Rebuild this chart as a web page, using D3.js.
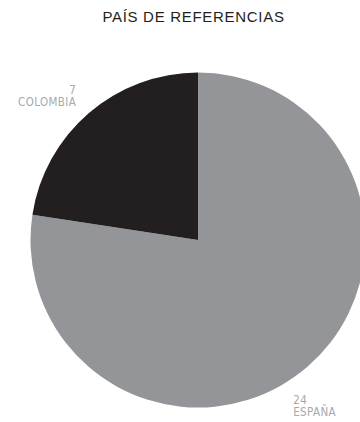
<!DOCTYPE html>
<html>
<head>
<meta charset="utf-8">
<script src="https://cdn.jsdelivr.net/npm/d3@7"></script>
<style>
  html, body { margin: 0; padding: 0; background: #fff; }
  svg { display: block; }
</style>
</head>
<body>
<svg id="chart" width="360" height="422"></svg>
<script>
// Country of the references
const categories = ["ESPAÑA", "COLOMBIA"];
const values = [24, 7];
const colors = ["#939598", "#231f20"];
const title = "PAÍS DE REFERENCIAS";

const W = 360, H = 422;
const cx = 198, cy = 240, radius = 167.5;

const svg = d3.select("#chart");

svg.append("text")
  .attr("x", 193.5)
  .attr("y", 21.5)
  .attr("text-anchor", "middle")
  .attr("font-family", "'Liberation Sans', Arial, sans-serif")
  .attr("font-size", 15)
  .attr("letter-spacing", 0.7)
  .attr("fill", "#231f20")
  .text(title);

const data = categories.map((c, i) => ({ name: c, value: values[i], color: colors[i] }));

const pie = d3.pie().value(d => d.value).sort(null);
const arcs = pie(data);
const arc = d3.arc().innerRadius(0).outerRadius(radius);

const g = svg.append("g").attr("transform", `translate(${cx},${cy})`);

g.selectAll("path.slice")
  .data(arcs)
  .join("path")
  .attr("class", "slice")
  .attr("d", arc)
  .attr("fill", d => d.data.color);

// Labels sit just outside the rim: value on the first line, name below
const labelPlacement = {
  "ESPAÑA": { angle: 2.646, r: radius * 1.195, anchor: "start" },
  "COLOMBIA": { angle: -0.738, r: radius * 1.08, anchor: "end" }
};

g.selectAll("text.lbl")
  .data(arcs)
  .join("text")
  .attr("class", "lbl")
  .attr("font-family", "'DejaVu Sans Condensed', 'DejaVu Sans', sans-serif")
  .attr("font-size", 11.5)
  .attr("letter-spacing", 0.4)
  .attr("fill", "#a7a9ac")
  .attr("text-anchor", d => labelPlacement[d.data.name].anchor)
  .each(function(d) {
    const o = labelPlacement[d.data.name];
    const x = Math.sin(o.angle) * o.r;
    const y = -Math.cos(o.angle) * o.r;
    const t = d3.select(this);
    t.append("tspan").attr("x", x).attr("y", y - 12.5).text(d.data.value);
    t.append("tspan").attr("x", x).attr("y", y).text(d.data.name);
  });
</script>
</body>
</html>
